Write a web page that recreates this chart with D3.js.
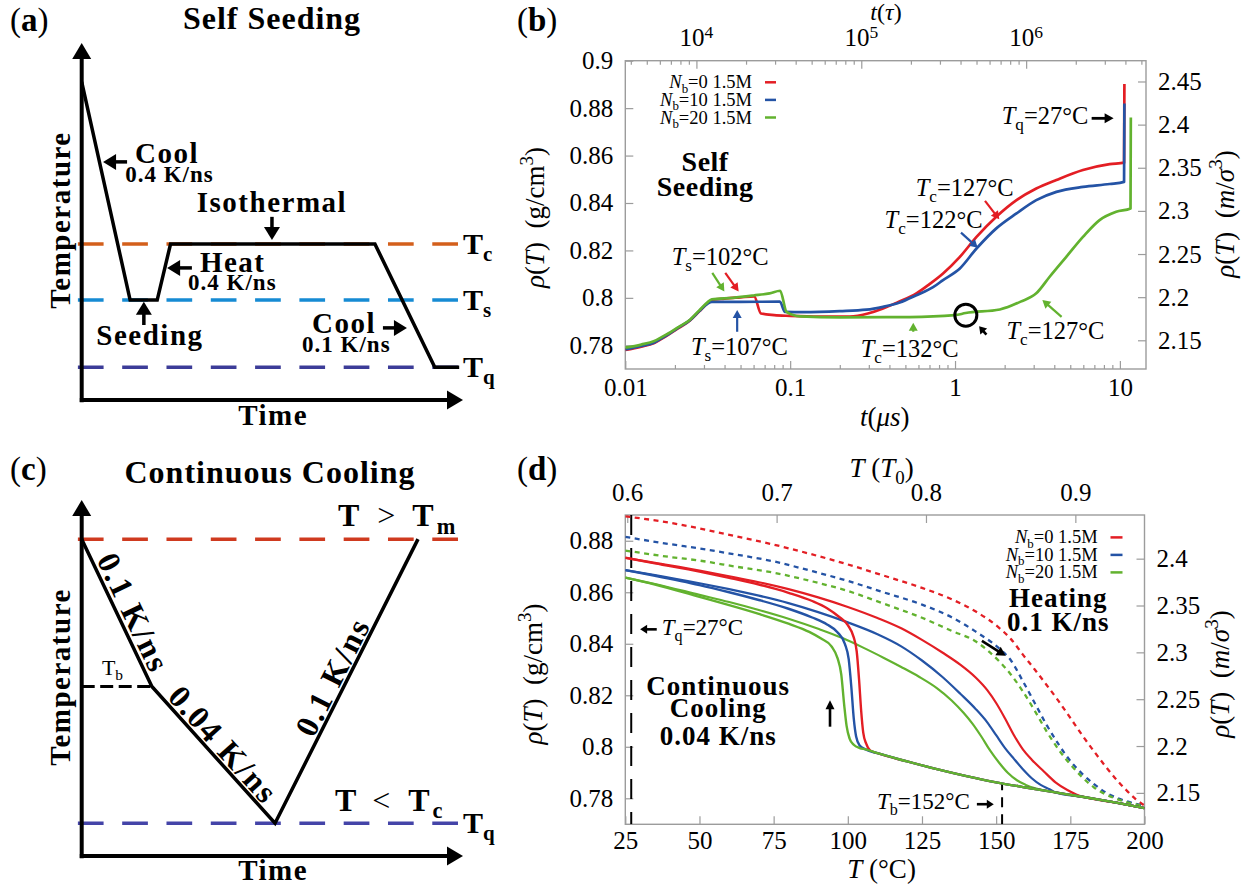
<!DOCTYPE html>
<html>
<head>
<meta charset="utf-8">
<script src="https://cdn.jsdelivr.net/npm/d3@7"></script>
<style>
  body { margin: 0; background: #fff; }
  svg { display: block; }
  text { white-space: pre; }
</style>
</head>
<body>
<svg id="fig" width="1247" height="890"></svg>
<script>
"use strict";

// ── data ────────────────────────────────────────────────────────────────────
// (a) self-seeding protocol, schematic units 0-100
const aTime = [0, 12.7, 19.8, 23.3, 76.9, 92.6, 99.0];
const aTemp = [89.1, 28.0, 28.0, 43.7, 43.7, 9.2, 9.2];
const aLevels = [43.7, 28.0, 9.2];
const aLevelNames = ["c", "s", "q"];
const aLevelColors = ["#d35f1b", "#168bd3", "#3c3c98"];

// (c) continuous cooling protocol, schematic units 0-100
const cTime = [0, 18.4, 50.7, 88.2];
const cTemp = [89.0, 47.6, 9.2, 89.0];
const cLevels = [89.0, 9.2];
const cLevelColors = ["#cf3a1f", "#4444a8"];

// shared series
const seriesLabels = ["0", "10", "20"];
const seriesColors = ["#e31e24", "#2453a5", "#62b22f"];

// (b) density vs time, [t (µs), rho (g/cm3)]
const bRed = [[0.01,0.7780],[0.0125,0.7794],[0.015,0.7810],[0.0178,0.7840],[0.021,0.7872],[0.0247,0.7905],[0.028,0.7942],[0.0315,0.7977],[0.0335,0.7991],[0.040,0.7997],[0.050,0.8002],[0.0605,0.8006],[0.0665,0.7934],[0.080,0.7927],[0.10,0.7924],[0.15,0.7921],[0.23,0.7921],[0.30,0.7935],[0.366,0.7955],[0.45,0.7982],[0.583,0.8019],[0.70,0.8058],[0.846,0.8103],[1.07,0.8173],[1.35,0.8257],[1.78,0.8342],[2.36,0.8412],[3.11,0.8461],[4.12,0.8497],[5.97,0.8539],[8.67,0.8564],[10.6,0.8570],[10.65,0.8902]];
const bBlue = [[0.01,0.7782],[0.0125,0.7797],[0.015,0.7812],[0.0178,0.7842],[0.021,0.7874],[0.0247,0.7906],[0.028,0.7943],[0.0315,0.7975],[0.0335,0.7983],[0.05,0.7983],[0.0866,0.7984],[0.093,0.7941],[0.12,0.7940],[0.2,0.7944],[0.29,0.7950],[0.366,0.7962],[0.462,0.7980],[0.583,0.8011],[0.736,0.8045],[0.846,0.8075],[1.07,0.8124],[1.35,0.8208],[1.78,0.8293],[2.36,0.8356],[3.11,0.8412],[4.12,0.8447],[5.97,0.8468],[8.67,0.8480],[10.6,0.8489],[10.65,0.8820]];
const bGreen = [[0.01,0.7790],[0.0125,0.7803],[0.015,0.7818],[0.0178,0.7846],[0.021,0.7877],[0.0247,0.7908],[0.028,0.7946],[0.0315,0.7981],[0.0335,0.7994],[0.045,0.8000],[0.060,0.8010],[0.075,0.8019],[0.087,0.8030],[0.095,0.7941],[0.115,0.7922],[0.2,0.7918],[0.53,0.7919],[1.0,0.7927],[1.16,0.7936],[1.87,0.7951],[2.5,0.7984],[3.11,0.8019],[3.75,0.8089],[4.73,0.8173],[5.97,0.8257],[7.53,0.8328],[9.5,0.8363],[11.6,0.8377],[11.65,0.8761]];

const bLeftTicks = [0.78, 0.8, 0.82, 0.84, 0.86, 0.88, 0.9];
const bRightTicks = [2.15, 2.2, 2.25, 2.3, 2.35, 2.4, 2.45];
const bBottomTicks = [0.01, 0.1, 1, 10];
const bTopTicks = [1e4, 1e5, 1e6];

// (d) density vs temperature, [T (°C), rho (g/cm3)]
const dMelt = [[106,0.7990],[110,0.7975],[120,0.7943],[130,0.7913],[140,0.7886],[150,0.7862],[160,0.7842],[170,0.7823],[180,0.7804],[190,0.7784],[200,0.7762]];
const dRedCool = [[25,0.8734],[35,0.8712],[50,0.8680],[60,0.8656],[70,0.8630],[80,0.8598],[88,0.8566],[93,0.8538],[97,0.8505],[100,0.8472],[102,0.8425],[103,0.8370],[103.8,0.8260],[104.5,0.8140],[105.2,0.8055],[106.2,0.8012],[107.5,0.7986]];
const dBlueCool = [[25,0.8686],[35,0.8664],[50,0.8628],[60,0.8600],[70,0.8570],[80,0.8536],[88,0.8502],[93,0.8475],[96.5,0.8445],[99,0.8400],[100.3,0.8340],[101.2,0.8230],[102,0.8110],[102.8,0.8040],[104,0.8005],[106,0.7990]];
const dGreenCool = [[25,0.8657],[35,0.8630],[50,0.8582],[60,0.8550],[70,0.8516],[80,0.8478],[87,0.8446],[91,0.8420],[94.5,0.8390],[96.5,0.8345],[97.8,0.8280],[98.8,0.8160],[99.6,0.8080],[100.6,0.8032],[102,0.8008],[104,0.7995],[106,0.7990]];
const dRedHeat = [[25,0.8734],[35,0.8714],[50,0.8684],[60,0.8662],[70,0.8639],[80,0.8612],[90,0.8580],[100,0.8543],[110,0.8500],[118,0.8460],[125,0.8415],[132,0.8365],[138,0.8318],[143,0.8270],[147,0.8220],[150,0.8170],[153,0.8110],[156,0.8045],[159,0.7990],[162,0.7950],[166,0.7905],[170,0.7862],[174,0.7832],[177,0.7815]];
const dBlueHeat = [[25,0.8686],[35,0.8667],[50,0.8635],[60,0.8612],[70,0.8587],[80,0.8558],[90,0.8523],[100,0.8483],[110,0.8437],[118,0.8390],[125,0.8335],[132,0.8270],[138,0.8205],[143,0.8148],[147,0.8095],[150,0.8045],[153,0.7995],[156,0.7953],[159,0.7913],[162,0.7878],[165,0.7852],[168,0.7835]];
const dGreenHeat = [[25,0.8657],[35,0.8632],[50,0.8590],[60,0.8562],[70,0.8531],[80,0.8497],[90,0.8458],[98,0.8423],[105,0.8386],[112,0.8346],[118,0.8310],[124,0.8272],[130,0.8228],[135,0.8180],[139,0.8132],[142,0.8090],[145,0.8040],[148,0.7985],[151,0.7938],[154,0.7898],[157,0.7870],[160,0.7852]];
const dRedDash = [[25,0.8895],[40,0.8870],[50,0.8848],[62,0.8818],[75,0.8785],[87,0.8750],[100,0.8708],[112,0.8665],[125,0.8617],[135,0.8573],[143,0.8526],[151,0.8462],[155,0.8418],[159,0.8358],[163,0.8300],[167,0.8240],[171,0.8178],[175,0.8112],[179,0.8045],[183,0.7982],[187,0.7922],[191,0.7867],[194,0.7830],[197,0.7797],[200,0.7772]];
const dBlueDash = [[25,0.8815],[40,0.8787],[50,0.8770],[62,0.8747],[75,0.8720],[87,0.8685],[100,0.8644],[112,0.8600],[125,0.8552],[135,0.8503],[143,0.8448],[151,0.8382],[155,0.8335],[159,0.8255],[163,0.8170],[167,0.8085],[171,0.8010],[175,0.7945],[179,0.7895],[183,0.7855],[187,0.7822],[191,0.7800],[195,0.7785],[200,0.7770]];
const dGreenDash = [[25,0.8762],[40,0.8737],[50,0.8723],[62,0.8700],[75,0.8676],[87,0.8645],[100,0.8605],[112,0.8556],[125,0.8501],[135,0.8450],[143,0.8410],[151,0.8332],[155,0.8280],[159,0.8215],[163,0.8140],[167,0.8060],[171,0.7990],[175,0.7932],[179,0.7882],[183,0.7842],[187,0.7815],[191,0.7796],[195,0.7782],[200,0.7770]];

const dLeftTicks = [0.78, 0.8, 0.82, 0.84, 0.86, 0.88];
const dRightTicks = [2.15, 2.2, 2.25, 2.3, 2.35, 2.4];
const dBottomTicks = [25, 50, 75, 100, 125, 150, 175, 200];
const dTopTicks = [0.6, 0.7, 0.8, 0.9];
const dTq = 27, dTb = 152;

// unit conversions
const TAU_PER_US = 1e4 / 0.027;
const SIGMA_RATIO = 2.749;

// ── helpers ─────────────────────────────────────────────────────────────────
const SERIF = "'Liberation Serif','DejaVu Serif',serif";
const FRAME = "#9c9c9c";
const svg = d3.select("#fig");
svg.attr("font-family", SERIF);

// segs: [text, flags, dx]; flags: i italic, b bold, n normal, _ sub, ^ sup
function rich(g, x, y, segs, o) {
    const t = g.append("text").attr("x", x).attr("y", y)
        .attr("font-family", SERIF)
        .attr("font-size", o.size)
        .attr("text-anchor", o.anchor || "start")
        .attr("fill", o.fill || "#000");
    if (o.weight) t.attr("font-weight", o.weight);
    if (o.ls) t.attr("letter-spacing", o.ls);
    if (o.rotate) t.attr("transform", "rotate(" + o.rotate + "," + x + "," + y + ")");
    let cur = 0;
    segs.forEach(function (s) {
        const f = s[1] || "";
        const sp = t.append("tspan").text(s[0]);
        let off = 0, scale = 1;
        if (f.includes("_")) { off = 0.24 * o.size; scale = 0.7; }
        if (f.includes("^")) { off = -(o.sup || 0.42) * o.size; scale = 0.7; }
        sp.attr("dy", off - cur);
        cur = off;
        if (s[2]) sp.attr("dx", s[2]);
        if (scale !== 1) sp.attr("font-size", o.size * scale);
        if (f.includes("i")) sp.attr("font-style", "italic");
        if (f.includes("b")) sp.attr("font-weight", "bold");
        if (f.includes("n")) sp.attr("font-weight", "normal");
    });
    return t;
}

// rotated text centred visually on (cx, cy)
function rotText(g, cx, cy, segs, o, ang) {
    const r = ang * Math.PI / 180, h = 0.33 * o.size;
    const x = cx - h * Math.sin(r), y = cy + h * Math.cos(r);
    return rich(g, x, y, segs, Object.assign({}, o, { anchor: "middle", rotate: ang }));
}

function arrow(g, x1, y1, x2, y2, o) {
    const a = Math.atan2(y2 - y1, x2 - x1);
    const c = Math.cos(a), s = Math.sin(a);
    const bx = x2 - o.head * c, by = y2 - o.head * s;
    g.append("line")
        .attr("x1", x1).attr("y1", y1)
        .attr("x2", bx + c).attr("y2", by + s)
        .attr("stroke", o.color || "#000").attr("stroke-width", o.width);
    g.append("path")
        .attr("d", "M" + x2 + "," + y2 +
            "L" + (bx - o.half * s) + "," + (by + o.half * c) +
            "L" + (bx + o.half * s) + "," + (by - o.half * c) + "Z")
        .attr("fill", o.color || "#000");
}

function drawAxis(g, axis, tr, size) {
    const a = g.append("g").attr("transform", tr).call(axis);
    a.attr("font-family", null).attr("font-size", null);
    a.select(".domain").remove();
    a.selectAll(".tick line").attr("stroke", FRAME).attr("stroke-width", 1.2);
    a.selectAll(".tick text").attr("font-family", SERIF).attr("font-size", size).attr("fill", "#000");
    return a;
}

function frame(g, x0, x1, y0, y1) {
    g.append("rect").attr("x", x0).attr("y", y0)
        .attr("width", x1 - x0).attr("height", y1 - y0)
        .attr("fill", "none").attr("stroke", FRAME).attr("stroke-width", 1.4);
}

function clipRect(id, x0, x1, y0, y1) {
    svg.append("clipPath").attr("id", id).append("rect")
        .attr("x", x0).attr("y", y0).attr("width", x1 - x0).attr("height", y1 - y0);
}

const fmt = d => String(+(+d).toFixed(2));
const nbLabel = n => [["N", "i"], ["b", "_"], ["=" + n + " 1.5M"]];

// ── panel (a) ───────────────────────────────────────────────────────────────
const gA = svg.append("g");
const xA = d3.scaleLinear().domain([0, 100]).range([81.7, 463]);
const yA = d3.scaleLinear().domain([0, 100]).range([400, 43]);
const boldA = { size: 29, weight: "bold", ls: 1.5 };
const rateA = { size: 23, weight: "bold", ls: 1 };
const headA = { width: 3.5, head: 13, half: 8 };

aLevels.forEach(function (lv, i) {
    gA.append("line")
        .attr("x1", xA(-1)).attr("x2", xA(99))
        .attr("y1", yA(lv)).attr("y2", yA(lv))
        .attr("stroke", aLevelColors[i]).attr("stroke-width", 3.5)
        .attr("stroke-dasharray", "25.7,18.6");
    rich(gA, xA(100), yA(lv) + 10, [["T"], [aLevelNames[i], "_"]], { size: 30, weight: "bold" });
});
arrow(gA, xA(0), yA(-0.6), xA(0), yA(100), { width: 4, head: 16, half: 9.5 });
arrow(gA, xA(-0.5), yA(0), xA(100), yA(0), { width: 4, head: 16, half: 9.5 });

gA.append("path")
    .attr("d", d3.line().x(d => xA(d[0])).y(d => yA(d[1]))(aTime.map((t, i) => [t, aTemp[i]])))
    .attr("fill", "none").attr("stroke", "#000").attr("stroke-width", 3.5);

rich(gA, 10, 31, [["("], ["a", "b"], [")"]], { size: 33 });
rich(gA, 272, 29, [["Self Seeding"]], { size: 32, weight: "bold", ls: 1, anchor: "middle" });
rich(gA, xA(14.0), yA(66.4), [["Cool"]], boldA);
rich(gA, xA(11.4), yA(61.1), [["0.4 K/ns"]], rateA);
arrow(gA, xA(11.9), yA(66.7), xA(5.6), yA(66.7), headA);
rich(gA, xA(49.9), yA(52.7), [["Isothermal"]], Object.assign({ anchor: "middle" }, boldA));
arrow(gA, xA(49.9), yA(51.3), xA(49.9), yA(44.8), headA);
rich(gA, xA(31.0), yA(35.9), [["Heat"]], boldA);
rich(gA, xA(27.9), yA(30.8), [["0.4 K/ns"]], rateA);
arrow(gA, xA(28.9), yA(37.0), xA(22.4), yA(37.0), headA);
arrow(gA, xA(16.3), yA(21.0), xA(16.3), yA(27.5), headA);
rich(gA, xA(17.9), yA(15.4), [["Seeding"]], Object.assign({ anchor: "middle" }, boldA));
rich(gA, xA(60.4), yA(18.8), [["Cool"]], boldA);
rich(gA, xA(57.8), yA(13.4), [["0.1 K/ns"]], rateA);
arrow(gA, xA(79.0), yA(20.2), xA(85.3), yA(20.2), headA);
rotText(gA, xA(-5.7), yA(50.4), [["Temperature"]], boldA, -90);
rich(gA, xA(50.2), yA(-7.0), [["Time"]], Object.assign({ anchor: "middle" }, boldA));

// ── panel (c) ───────────────────────────────────────────────────────────────
const gC = svg.append("g");
const xC = d3.scaleLinear().domain([0, 100]).range([81.7, 463]);
const yC = d3.scaleLinear().domain([0, 100]).range([856, 500]);

cLevels.forEach(function (lv, i) {
    gC.append("line")
        .attr("x1", xC(-1)).attr("x2", xC(99))
        .attr("y1", yC(lv)).attr("y2", yC(lv))
        .attr("stroke", cLevelColors[i]).attr("stroke-width", 3.5)
        .attr("stroke-dasharray", "25.7,18.6");
});
gC.append("line")
    .attr("x1", xC(0)).attr("x2", xC(cTime[1]))
    .attr("y1", yC(cTemp[1])).attr("y2", yC(cTemp[1]))
    .attr("stroke", "#000").attr("stroke-width", 3).attr("stroke-dasharray", "13,5.5");
arrow(gC, xC(0), yC(-0.6), xC(0), yC(100), { width: 4, head: 16, half: 9.5 });
arrow(gC, xC(-0.5), yC(0), xC(100), yC(0), { width: 4, head: 16, half: 9.5 });

const cPts = cTime.map((t, i) => [xC(t), yC(cTemp[i])]);
gC.append("path")
    .attr("d", d3.line()(cPts))
    .attr("fill", "none").attr("stroke", "#000").attr("stroke-width", 3.5);

rich(gC, 10, 480, [["("], ["c", "b"], [")"]], { size: 33 });
rich(gC, 270, 483, [["Continuous Cooling"]], { size: 32, weight: "bold", ls: 1, anchor: "middle" });
rich(gC, xC(67.2), yC(92.7), [["T", "b"], [">", "n", 18], ["T", "b", 17], ["m", "_b", 3]], { size: 32 });
rich(gC, xC(66.4), yC(12.7), [["T", "b"], ["<", "n", 16], ["T", "b", 18], ["c", "_b", 3]], { size: 32 });
rich(gC, xC(100), yC(cLevels[1]) + 10, [["T"], ["q", "_"]], { size: 30, weight: "bold" });
rich(gC, xC(5.3), yC(50.8), [["T"], ["b", "_"]], { size: 22 });

const segAng = (p, q) => Math.atan2(q[1] - p[1], q[0] - p[0]) * 180 / Math.PI;
const rateC = { size: 32, weight: "bold", ls: 2 };
rotText(gC, xC(13.5), yC(68.3), [["0.1 K/ns"]], rateC, segAng(cPts[0], cPts[1]));
rotText(gC, xC(37.1), yC(31.2), [["0.04 K/ns"]], rateC, segAng(cPts[1], cPts[2]));
rotText(gC, xC(65.9), yC(50.3), [["0.1 K/ns"]], rateC, segAng(cPts[2], cPts[3]));
rotText(gC, xC(-5.7), yC(50.3), [["Temperature"]], boldA, -90);
rich(gC, xC(50.2), yC(-6.7), [["Time"]], Object.assign({ anchor: "middle" }, boldA));

// ── panel (b) ───────────────────────────────────────────────────────────────
const gB = svg.append("g");
const bX0 = 625.3, bX1 = 1146, bY0 = 60.7, bY1 = 369;
const xB = d3.scaleLog().domain([0.01, 14.4]).range([bX0, bX1]);
const yB = d3.scaleLinear().domain([0.770, 0.9]).range([bY1, bY0]);
const yB2 = d3.scaleLinear().domain(yB.domain().map(v => v * SIGMA_RATIO)).range(yB.range());
const xBtau = d3.scaleLog().domain(xB.domain().map(v => v * TAU_PER_US)).range(xB.range());

function minorLog(dom) {
    const out = [];
    for (let e = -3; e <= 7; e++) {
        for (let k = 2; k <= 9; k++) {
            const v = k * Math.pow(10, e);
            if (v > dom[0] && v < dom[1]) out.push(v);
        }
    }
    return out;
}

drawAxis(gB, d3.axisLeft(yB).tickValues(bLeftTicks).tickSize(-8).tickPadding(12).tickFormat(fmt), "translate(" + bX0 + ",0)", 25);
drawAxis(gB, d3.axisRight(yB2).tickValues(bRightTicks).tickSize(-8).tickPadding(12).tickFormat(fmt), "translate(" + bX1 + ",0)", 25);
drawAxis(gB, d3.axisBottom(xB).tickValues(bBottomTicks).tickSize(-8).tickPadding(9).tickFormat(d => String(d)), "translate(0," + bY1 + ")", 25);
drawAxis(gB, d3.axisBottom(xB).tickValues(minorLog(xB.domain())).tickSize(-4).tickFormat(""), "translate(0," + bY1 + ")", 25);
drawAxis(gB, d3.axisTop(xBtau).tickValues(bTopTicks).tickSize(-8).tickFormat(""), "translate(0," + bY0 + ")", 25);
drawAxis(gB, d3.axisTop(xBtau).tickValues(minorLog(xBtau.domain())).tickSize(-4).tickFormat(""), "translate(0," + bY0 + ")", 25);
bTopTicks.forEach(function (v) {
    rich(gB, xBtau(v), bY0 - 14.4, [["10"], [String(Math.round(Math.log10(v))), "^"]], { size: 25, anchor: "middle", sup: 0.34 });
});
frame(gB, bX0, bX1, bY0, bY1);
clipRect("clipB", bX0, bX1, bY0, bY1);

const lineB = d3.line().x(d => xB(d[0])).y(d => yB(d[1])).curve(d3.curveMonotoneX);
const gBc = gB.append("g").attr("clip-path", "url(#clipB)");
[bRed, bBlue, bGreen].forEach(function (s, i) {
    gBc.append("path").attr("d", lineB(s))
        .attr("fill", "none").attr("stroke", seriesColors[i])
        .attr("stroke-width", 2.7).attr("stroke-linejoin", "round");
});

// legend
seriesLabels.forEach(function (n, i) {
    const y = bY0 + 21.6 + i * 17.6;
    rich(gB, bX0 + 126.7, y + 6, nbLabel(n), { size: 18.5, anchor: "end" });
    gB.append("line").attr("x1", bX0 + 139.7).attr("x2", bX0 + 150.7)
        .attr("y1", y).attr("y2", y)
        .attr("stroke", seriesColors[i]).attr("stroke-width", 2.5);
});

// axis titles
rich(gB, 517, 31, [["("], ["b", "b"], [")"]], { size: 33 });
rich(gB, 886, 20, [["t", "i"], ["("], ["τ", "i"], [")"]], { size: 24, anchor: "middle" });
rich(gB, 884.8, 425.7, [["t", "i"], ["("], ["μs", "i"], [")"]], { size: 27, anchor: "middle" });
rotText(gB, 535.3, 217.5, [["ρ", "i"], ["("], ["T", "i"], [")  (g/cm"], ["3", "^"], [")"]], { size: 27 }, -90);
rotText(gB, 1224.6, 214, [["ρ", "i"], ["("], ["T", "i"], [")  ("], ["m", "i"], ["/"], ["σ", "i"], ["3", "^"], [")"]], { size: 27 }, -90);

// annotations
const annB = { size: 24.5 };
const arrC = c => ({ color: c, width: 2.2, head: 8, half: 4.5 });
rich(gB, xB(0.0305), yB(0.8535), [["Self"]], { size: 28, weight: "bold", anchor: "middle", ls: 0.5 });
rich(gB, xB(0.0305), yB(0.843), [["Seeding"]], { size: 28, weight: "bold", anchor: "middle", ls: 0.5 });
rich(gB, xB(0.0191), yB(0.814), [["T", "i"], ["s", "_"], ["=102°C"]], annB);
arrow(gB, xB(0.0337), yB(0.8105), xB(0.0399), yB(0.8027), arrC(seriesColors[2]));
arrow(gB, xB(0.0404), yB(0.8105), xB(0.0487), yB(0.8027), arrC(seriesColors[0]));
arrow(gB, xB(0.0477), yB(0.7857), xB(0.0477), yB(0.7949), arrC(seriesColors[1]));
rich(gB, xB(0.025), yB(0.7757), [["T", "i"], ["s", "_"], ["=107°C"]], annB);
rich(gB, xB(0.2676), yB(0.775), [["T", "i"], ["c", "_"], ["=132°C"]], annB);
arrow(gB, xB(0.558), yB(0.7857), xB(0.558), yB(0.7895), arrC(seriesColors[2]));
gB.append("circle").attr("cx", xB(1.163)).attr("cy", yB(0.7927)).attr("r", 11)
    .attr("fill", "none").attr("stroke", "#000").attr("stroke-width", 3);
arrow(gB, xB(1.55), yB(0.7845), xB(1.40), yB(0.7880), { width: 2.6, head: 7, half: 4.5 });
rich(gB, xB(2.05), yB(0.7828), [["T", "i"], ["c", "_"], ["=127°C"]], annB);
arrow(gB, xB(4.43), yB(0.792), xB(3.386), yB(0.7991), arrC(seriesColors[2]));
rich(gB, xB(0.577), yB(0.843), [["T", "i"], ["c", "_"], ["=127°C"]], annB);
arrow(gB, xB(1.52), yB(0.8409), xB(1.856), yB(0.8331), arrC(seriesColors[0]));
rich(gB, xB(0.374), yB(0.8296), [["T", "i"], ["c", "_"], ["=122°C"]], annB);
arrow(gB, xB(1.087), yB(0.8275), xB(1.374), yB(0.8211), arrC(seriesColors[1]));
rich(gB, xB(1.919), yB(0.8733), [["T", "i"], ["q", "_"], ["=27°C"]], annB);
arrow(gB, xB(6.74), yB(0.8757), xB(9.16), yB(0.8757), { width: 2.8, head: 9, half: 5 });

// ── panel (d) ───────────────────────────────────────────────────────────────
const gD = svg.append("g");
const dX0 = 625.3, dX1 = 1144.5, dY0 = 515, dY1 = 824.3;
const xD = d3.scaleLinear().domain([25, 200]).range([dX0, dX1]);
const yD = d3.scaleLinear().domain([0.7699, 0.8900]).range([dY1, dY0]);
const yD2 = d3.scaleLinear().domain(yD.domain().map(v => v * SIGMA_RATIO)).range(yD.range());
const xDT0 = d3.scaleLinear().domain([0.5987, 0.9463]).range([dX0, dX1]);

drawAxis(gD, d3.axisLeft(yD).tickValues(dLeftTicks).tickSize(-8).tickPadding(12).tickFormat(fmt), "translate(" + dX0 + ",0)", 25);
drawAxis(gD, d3.axisRight(yD2).tickValues(dRightTicks).tickSize(-8).tickPadding(12).tickFormat(fmt), "translate(" + dX1 + ",0)", 25);
drawAxis(gD, d3.axisBottom(xD).tickValues(dBottomTicks).tickSize(-8).tickPadding(7).tickFormat(d => String(d)), "translate(0," + dY1 + ")", 25);
drawAxis(gD, d3.axisTop(xDT0).tickValues(dTopTicks).tickSize(-8).tickPadding(14).tickFormat(fmt), "translate(0," + dY0 + ")", 25);
frame(gD, dX0, dX1, dY0, dY1);
clipRect("clipD", dX0, dX1, dY0, dY1);

const lineD = d3.line().x(d => xD(d[0])).y(d => yD(d[1])).curve(d3.curveMonotoneX);
const withMelt = s => s.concat(dMelt.filter(p => p[0] > s[s.length - 1][0] + 1.5));
const gDc = gD.append("g").attr("clip-path", "url(#clipD)");

// quench and Tb markers
gDc.append("line").attr("x1", xD(dTq)).attr("x2", xD(dTq)).attr("y1", dY0).attr("y2", dY1)
    .attr("stroke", "#000").attr("stroke-width", 2).attr("stroke-dasharray", "20,13");
gDc.append("line").attr("x1", xD(dTb)).attr("x2", xD(dTb)).attr("y1", dY1).attr("y2", yD(0.7857))
    .attr("stroke", "#000").attr("stroke-width", 2).attr("stroke-dasharray", "10,7");

[dRedDash, dBlueDash, dGreenDash].forEach(function (s, i) {
    gDc.append("path").attr("d", lineD(s))
        .attr("fill", "none").attr("stroke", seriesColors[i])
        .attr("stroke-width", 2.3).attr("stroke-dasharray", "5,4.5");
});
[dRedHeat, dBlueHeat, dGreenHeat].forEach(function (s, i) {
    gDc.append("path").attr("d", lineD(withMelt(s)))
        .attr("fill", "none").attr("stroke", seriesColors[i])
        .attr("stroke-width", 2.2).attr("stroke-linejoin", "round");
});
[dRedCool, dBlueCool, dGreenCool].forEach(function (s, i) {
    gDc.append("path").attr("d", lineD(withMelt(s)))
        .attr("fill", "none").attr("stroke", seriesColors[i])
        .attr("stroke-width", 2.4).attr("stroke-linejoin", "round");
});

// legend
seriesLabels.forEach(function (n, i) {
    const y = dY0 + 22.4 + i * 17.5;
    rich(gD, dX1 - 46.8, y + 6, nbLabel(n), { size: 18.5, anchor: "end" });
    gD.append("line").attr("x1", dX1 - 34).attr("x2", dX1 - 22)
        .attr("y1", y).attr("y2", y)
        .attr("stroke", seriesColors[i]).attr("stroke-width", 2.5);
});

rich(gD, 517, 480, [["("], ["d", "b"], [")"]], { size: 33 });
rich(gD, 881.6, 477.3, [["T", "i"], [" ("], ["T", "i"], ["0", "_"], [")"]], { size: 27, anchor: "middle" });
rich(gD, 881.6, 877.5, [["T", "i"], [" (°C)"]], { size: 27, anchor: "middle" });
rotText(gD, 533.2, 674, [["ρ", "i"], ["("], ["T", "i"], [")  (g/cm"], ["3", "^"], [")"]], { size: 27 }, -90);
rotText(gD, 1220.4, 674, [["ρ", "i"], ["("], ["T", "i"], [")  ("], ["m", "i"], ["/"], ["σ", "i"], ["3", "^"], [")"]], { size: 27 }, -90);

const boldD = { size: 27, weight: "bold", ls: 1, anchor: "middle" };
rich(gD, xD(170.9), yD(0.8541), [["Heating"]], boldD);
rich(gD, xD(170.9), yD(0.8450), [["0.1 K/ns"]], boldD);
arrow(gD, xD(145.2), yD(0.8411), xD(153.2), yD(0.8353), { width: 2.6, head: 9, half: 5 });
rich(gD, xD(56.3), yD(0.8201), [["Continuous"]], boldD);
rich(gD, xD(56.3), yD(0.8114), [["Cooling"]], boldD);
rich(gD, xD(56.3), yD(0.8007), [["0.04 K/ns"]], boldD);
arrow(gD, xD(94), yD(0.8078), xD(94), yD(0.8181), { width: 2.6, head: 9, half: 4.5 });
arrow(gD, xD(35.6), yD(0.8456), xD(30), yD(0.8456), { width: 2.6, head: 7, half: 4.5 });
rich(gD, xD(37.3), yD(0.8434), [["T", "i"], ["q", "_"], ["=27°C"]], { size: 23 });
rich(gD, xD(109.8), yD(0.7757), [["T", "i"], ["b", "_"], ["=152°C"]], { size: 23 });
arrow(gD, xD(143.5), yD(0.7777), xD(149.2), yD(0.7777), { width: 2.6, head: 7, half: 4.5 });
</script>
</body>
</html>
